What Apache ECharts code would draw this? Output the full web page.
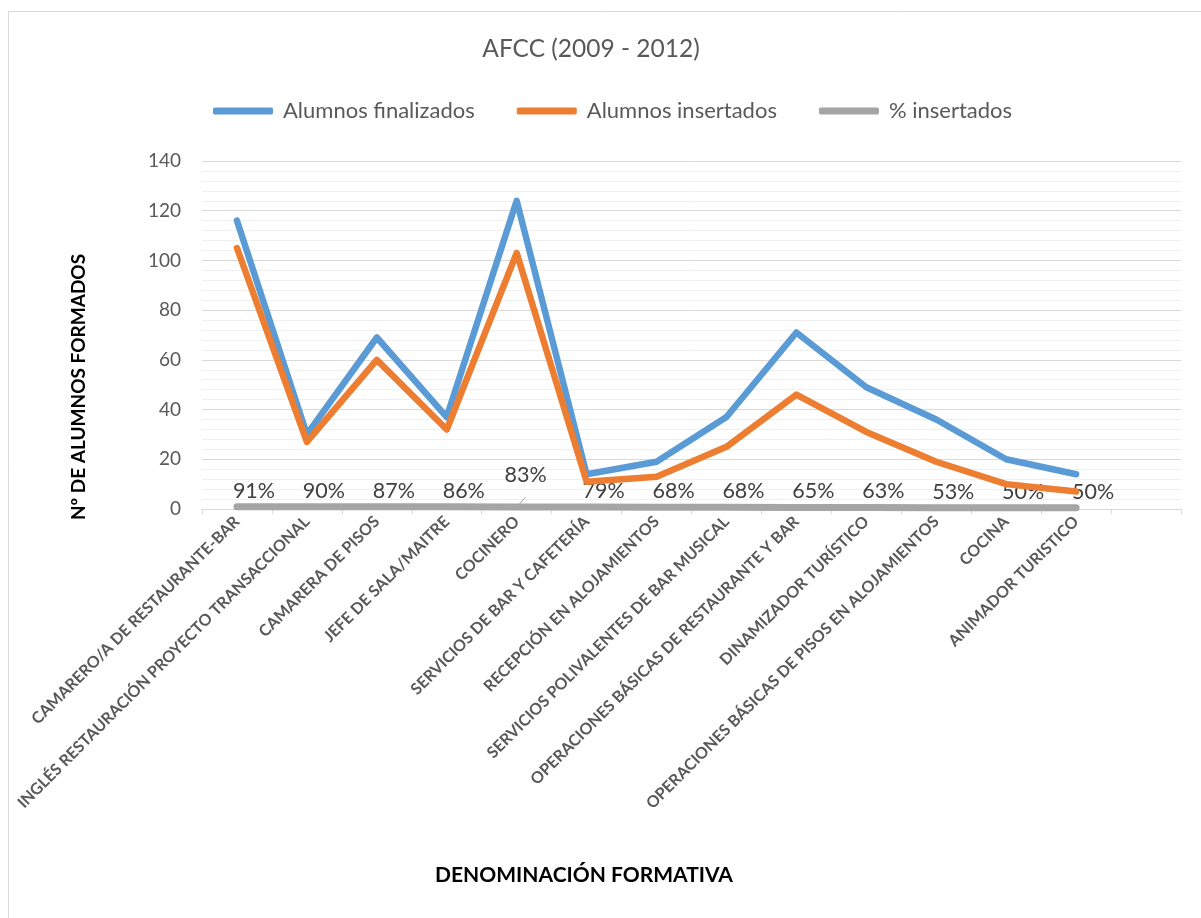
<!DOCTYPE html>
<html>
<head>
<meta charset="utf-8">
<script src="https://cdn.jsdelivr.net/npm/echarts@6/dist/echarts.min.js"></script>
<style>html,body{margin:0;padding:0;background:#fff}#c{width:1201px;height:918px}</style>
</head>
<body>
<div id="c"></div>
<script>
var categories = ["CAMARERO/A DE RESTAURANTE-BAR","INGLÉS RESTAURACIÓN PROYECTO TRANSACCIONAL","CAMARERA DE PISOS","JEFE DE SALA/MAITRE","COCINERO","SERVICIOS DE BAR Y CAFETERÍA","RECEPCIÓN EN ALOJAMIENTOS","SERVICIOS POLIVALENTES DE BAR MUSICAL","OPERACIONES BÁSICAS DE RESTAURANTE Y BAR","DINAMIZADOR TURÍSTICO","OPERACIONES BÁSICAS DE PISOS EN ALOJAMIENTOS","COCINA","ANIMADOR TURISTICO",""];
var finalizados = [116,30,69,37,124,14,19,37,71,49,36,20,14];
var insertados = [105,27,60,32,103,11,13,25,46,31,19,10,7];
var pctInsertados = [0.91,0.90,0.87,0.86,0.83,0.79,0.68,0.68,0.65,0.63,0.53,0.50,0.50];
var yTicks = [0,20,40,60,80,100,120,140];

var FONT = 'Lato, "Open Sans", sans-serif';
var chart = echarts.init(document.getElementById('c'));

var pctData = pctInsertados.map(function(v, i){
  if (i === 4) {
    return {value: v, label: {offset: [9, -16]}, labelLine: {show: true, lineStyle: {color: '#a6a6a6', width: 1}}};
  }
  return v;
});

chart.setOption({
  animation: false,
  backgroundColor: '#fff',
  graphic: [
    {type: 'rect', shape: {x: 8.5, y: 11.5, width: 1300, height: 1000}, style: {fill: 'none', stroke: '#d9d9d9', lineWidth: 1}, silent: true},
    {type: 'text', x: 79, y: 387, rotation: Math.PI / 2, silent: true,
      style: {text: 'Nº DE ALUMNOS FORMADOS', align: 'center', verticalAlign: 'middle', font: 'bold 19px ' + FONT, fill: '#000'}}
  ],
  title: [
    {text: 'AFCC (2009 - 2012)', left: 586, textAlign: 'center', top: 32, textStyle: {fontFamily: FONT, fontSize: 24.5, fontWeight: 'normal', color: '#595959'}},
    {text: 'DENOMINACIÓN FORMATIVA', left: 579, top: 860, textAlign: 'center', textStyle: {fontFamily: FONT, fontSize: 21, fontWeight: 'bold', color: '#000'}}
  ],
  legend: {
    left: 208, top: 95, itemWidth: 60, itemHeight: 7, itemGap: 42,
    icon: 'roundRect',
    textStyle: {fontFamily: FONT, fontSize: 22, color: '#595959', padding: [0, 0, 0, 5]},
    data: ['Alumnos finalizados', 'Alumnos insertados', '% insertados']
  },
  grid: {left: 202, right: 20, top: 161, bottom: 409, containLabel: false},
  xAxis: {
    type: 'category', data: categories, boundaryGap: true,
    axisLine: {lineStyle: {color: '#d9d9d9', width: 1}},
    axisTick: {show: true, length: 5, lineStyle: {color: '#d9d9d9'}},
    axisLabel: {rotate: 45, interval: 0, margin: 10, fontFamily: FONT, fontSize: 16, fontWeight: 'bold', color: '#595959'}
  },
  yAxis: {
    type: 'value', min: 0, max: 140, interval: 20,
    axisLine: {show: false}, axisTick: {show: false},
    axisLabel: {margin: 21, fontFamily: FONT, fontSize: 19, color: '#595959',
      formatter: function(v){ return yTicks.indexOf(v) >= 0 ? String(v) : ''; }},
    splitLine: {lineStyle: {color: '#d9d9d9', width: 1}},
    minorTick: {show: false, splitNumber: 5},
    minorSplitLine: {show: true, lineStyle: {color: '#f0f0f0', width: 1}}
  },
  series: [
    {name: 'Alumnos finalizados', type: 'line', data: finalizados, symbol: 'none', lineStyle: {width: 6.5, color: '#5B9BD5', cap: 'round', join: 'round'}, itemStyle: {color: '#5B9BD5'}, z: 3},
    {name: 'Alumnos insertados', type: 'line', data: insertados, symbol: 'none', lineStyle: {width: 6.5, color: '#ED7D31', cap: 'round', join: 'round'}, itemStyle: {color: '#ED7D31'}, z: 4},
    {name: '% insertados', type: 'line', data: pctData, symbol: 'circle', symbolSize: 0.1, showSymbol: true, lineStyle: {width: 7, color: '#A5A5A5', cap: 'round'}, itemStyle: {color: '#A5A5A5'}, z: 2,
      label: {show: true, position: 'top', distance: 5, offset: [17, 0], fontFamily: FONT, fontSize: 21.5, color: '#404040',
        formatter: function(p){ return Math.round(p.value * 100) + '%'; }}}
  ]
});
</script>
</body>
</html>
